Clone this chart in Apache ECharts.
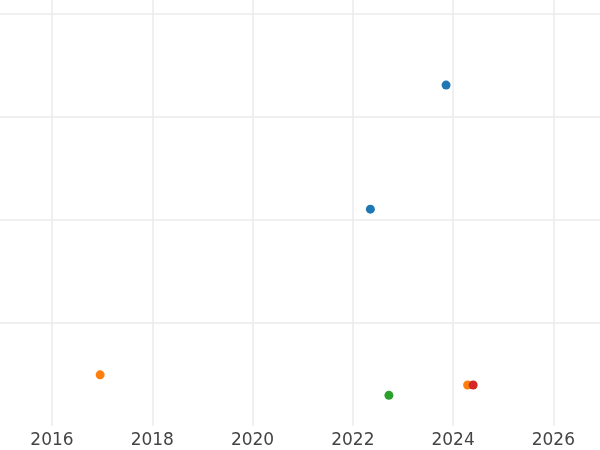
<!DOCTYPE html>
<html>
<head>
<meta charset="utf-8">
<script src="https://cdn.jsdelivr.net/npm/echarts@6/dist/echarts.min.js"></script>
<style>html,body{margin:0;padding:0;background:#fff}#c{width:600px;height:450px}</style>
</head>
<body>
<div id="c"></div>
<script>
// Data (x = year, y = value)
var seriesNames = ['A', 'B', 'C', 'D'];
var blueX = [2023.86, 2022.35];
var blueY = [330.5, 210.2];
var orangeX = [2016.96, 2024.29];
var orangeY = [49.6, 39.7];
var greenX = [2022.72];
var greenY = [29.7];
var redX = [2024.40];
var redY = [39.7];
var xTicks = [2016, 2018, 2020, 2022, 2024, 2026];
var yTicks = [100, 200, 300, 400];
var colors = ['#1f77b4', '#ff7f0e', '#2ca02c', '#d62728'];

function pairs(xs, ys) { return xs.map(function (x, i) { return [x, ys[i]]; }); }
var groups = [pairs(blueX, blueY), pairs(orangeX, orangeY), pairs(greenX, greenY), pairs(redX, redY)];

var chart = echarts.init(document.getElementById('c'), null, { renderer: 'canvas' });
chart.setOption({
  animation: false,
  backgroundColor: '#ffffff',
  grid: { left: 0, right: 0, top: 0, bottom: 24, containLabel: false },
  xAxis: {
    type: 'value', min: 2014.963, max: 2026.93,
    axisLine: { show: false },
    axisTick: { show: false, customValues: xTicks },
    axisLabel: { color: '#444444', fontSize: 17, fontFamily: 'DejaVu Sans', margin: 6, customValues: xTicks,
      formatter: function (v) { return String(Math.round(v)); } },
    splitLine: { show: true, lineStyle: { color: '#ebebeb', width: 1.5 } }
  },
  yAxis: {
    type: 'value', min: 0, max: 413,
    axisLine: { show: false },
    axisTick: { show: false, customValues: yTicks },
    axisLabel: { show: false, customValues: yTicks },
    splitLine: { show: true, lineStyle: { color: '#ebebeb', width: 1.5 } }
  },
  series: groups.map(function (g, i) {
    return { name: seriesNames[i], type: 'scatter', data: g, symbolSize: 9,
      itemStyle: { color: colors[i], opacity: 1 } };
  })
});
</script>
</body>
</html>
